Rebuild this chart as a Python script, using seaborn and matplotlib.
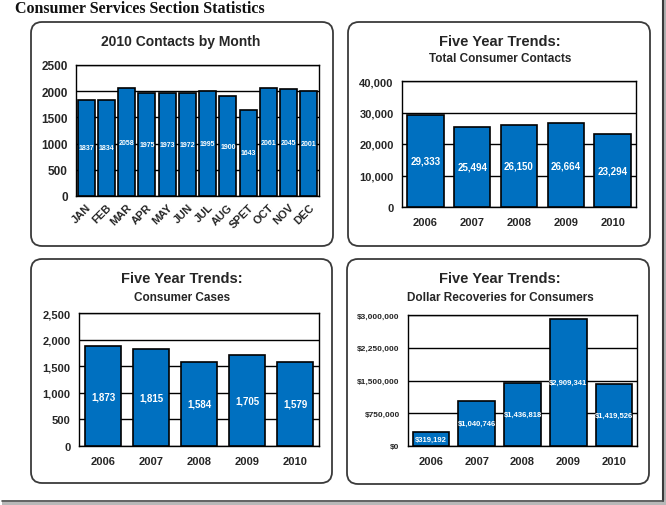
import matplotlib
matplotlib.use("Agg")
import matplotlib.pyplot as plt
from matplotlib.patches import FancyBboxPatch, Rectangle
import seaborn as sns


# ============================================================
# DATA
# ============================================================

MONTHS = ["JAN", "FEB", "MAR", "APR", "MAY", "JUN",
          "JUL", "AUG", "SPET", "OCT", "NOV", "DEC"]
CONTACTS_2010 = [1837, 1834, 2058, 1975, 1973, 1972,
                 1995, 1900, 1643, 2061, 2045, 2001]

YEARS = ["2006", "2007", "2008", "2009", "2010"]
TOTAL_CONTACTS = [29333, 25494, 26150, 26664, 23294]
CONSUMER_CASES = [1873, 1815, 1584, 1705, 1579]
DOLLAR_RECOVERIES = [319192, 1040746, 1436818, 2909341, 1419526]

BAR_COLOR = "#0070C0"
W, H = 666, 506


# ============================================================
# FIGURE + BACKGROUND (pixel coordinates)
# ============================================================

sns.set_theme(style="white")
plt.rcParams["font.family"] = ["Liberation Sans", "DejaVu Sans"]

fig = plt.figure(figsize=(W / 100, H / 100), dpi=100)
bg = fig.add_axes([0, 0, 1, 1], zorder=0)
bg.set_xlim(0, W)
bg.set_ylim(H, 0)
bg.axis("off")

# screenshot shadow on right and bottom
bg.add_patch(Rectangle((662, 0), 4, H, facecolor="#b0b0b0", edgecolor="none"))
bg.add_patch(Rectangle((2, 501), 664, 5, facecolor="#b8b8b8", edgecolor="none"))
bg.plot([662.5, 662.5], [0, 502], color="#3a3a3a", lw=1.5)
bg.plot([2, 663], [501.5, 501.5], color="#555555", lw=1.2)

bg.text(15, 9, "Consumer Services Section Statistics", family="Liberation Serif",
        fontweight="bold", fontsize=11.5, va="center", ha="left", color="#111111")

boxes = [(31, 23, 302, 224), (348, 23, 302, 224),
         (31, 260, 301, 224), (347, 260, 302, 225)]
for x, y, w, h in boxes:
    bg.add_patch(FancyBboxPatch((x, y), w, h,
                                boxstyle="round,pad=0,rounding_size=11",
                                facecolor="white", edgecolor="#3a3a3a", lw=1.3))


def px_axes(left, right, top, bottom):
    return fig.add_axes([left / W, 1 - bottom / H, (right - left) / W, (bottom - top) / H],
                        zorder=2)


def draw_bars(ax, cats, vals, ymax, step, width, yfmt, lblfmt, lblsize, xsize, ysize):
    sns.barplot(x=cats, y=vals, ax=ax, color=BAR_COLOR, saturation=1,
                edgecolor="black", linewidth=1.2, width=width, zorder=3)
    ax.set_ylim(0, ymax)
    ax.set_yticks(range(0, ymax + 1, step))
    ax.set_yticklabels([yfmt(v) for v in range(0, ymax + 1, step)],
                       fontsize=ysize, fontweight="bold")
    ax.set_axisbelow(True)
    ax.yaxis.grid(True, color="black", lw=1.0)
    ax.xaxis.grid(False)
    for s in ax.spines.values():
        s.set_color("black")
        s.set_linewidth(1.0)
        s.set_visible(True)
    ax.tick_params(axis="y", length=0, pad=6)
    ax.tick_params(axis="x", length=0, pad=7, labelsize=xsize)
    for t in ax.get_xticklabels():
        t.set_fontweight("bold")
    ax.set_xlabel("")
    ax.set_ylabel("")
    ax.bar_label(ax.containers[0], labels=[lblfmt(v) for v in vals],
                 label_type="center", color="white", fontweight="bold",
                 fontsize=lblsize)


# ============================================================
# PANEL 1: 2010 CONTACTS BY MONTH
# ============================================================

ax1 = px_axes(76, 319, 66, 197)
draw_bars(ax1, MONTHS, CONTACTS_2010, 2500, 500, 0.84,
          lambda v: f"{v}", lambda v: f"{v}", 5, 8, 8.5)
for t in ax1.get_xticklabels():
    t.set_rotation(45)
    t.set_ha("right")
    t.set_rotation_mode("anchor")
ax1.tick_params(axis="x", pad=4)
bg.text(181, 42, "2010 Contacts by Month", ha="center", va="center",
        fontsize=10, fontweight="bold")


# ============================================================
# PANEL 2: TOTAL CONSUMER CONTACTS
# ============================================================

ax2 = px_axes(402, 636, 82, 208)
draw_bars(ax2, YEARS, TOTAL_CONTACTS, 40000, 10000, 0.78,
          lambda v: f"{v:,}", lambda v: f"{v:,}", 7, 8, 8)
bg.text(500, 42, "Five Year Trends:", ha="center", va="center",
        fontsize=10.5, fontweight="bold")
bg.text(500, 59, "Total Consumer Contacts", ha="center", va="center",
        fontsize=8.5, fontweight="bold")


# ============================================================
# PANEL 3: CONSUMER CASES
# ============================================================

ax3 = px_axes(79, 319, 314, 447)
draw_bars(ax3, YEARS, CONSUMER_CASES, 2500, 500, 0.76,
          lambda v: f"{v:,}", lambda v: f"{v:,}", 7, 8, 8)
bg.text(182, 279, "Five Year Trends:", ha="center", va="center",
        fontsize=10.5, fontweight="bold")
bg.text(182, 298, "Consumer Cases", ha="center", va="center",
        fontsize=8.5, fontweight="bold")


# ============================================================
# PANEL 4: DOLLAR RECOVERIES
# ============================================================

ax4 = px_axes(408, 637, 316, 447)
draw_bars(ax4, YEARS, DOLLAR_RECOVERIES, 3000000, 750000, 0.8,
          lambda v: f"${v:,}", lambda v: f"${v:,}", 5.5, 8, 6)
bg.text(500, 279, "Five Year Trends:", ha="center", va="center",
        fontsize=10.5, fontweight="bold")
bg.text(500, 298, "Dollar Recoveries for Consumers", ha="center", va="center",
        fontsize=8.5, fontweight="bold")

fig.savefig("out.png", dpi=100)
